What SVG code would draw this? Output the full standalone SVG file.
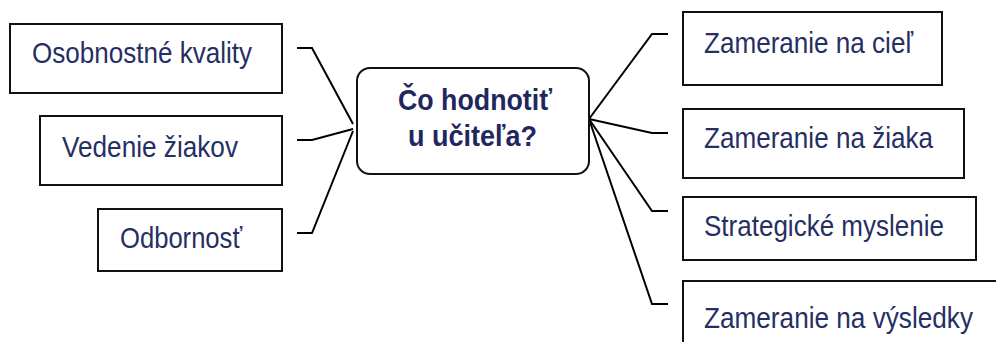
<svg xmlns="http://www.w3.org/2000/svg" width="996" height="342" viewBox="0 0 996 342">
<style>
.box{fill:#fff;stroke:#111;stroke-width:2}
.t{font-family:"Liberation Sans",Arial,sans-serif;font-size:30px;fill:#262f63}
.c{font-family:"Liberation Sans",Arial,sans-serif;font-size:30px;font-weight:bold;fill:#1f275e}
.ln{fill:none;stroke:#000;stroke-width:2;stroke-linejoin:miter}
</style>
<rect width="996" height="342" fill="#fff"/>
<g id="connectors">
<polyline class="ln" points="297,48 312,48 353,124"/>
<polyline class="ln" points="297,140 312,140 353,129"/>
<polyline class="ln" points="297,233 312,233 353,131"/>
<polyline class="ln" points="589,119 652,34 668,34"/>
<polyline class="ln" points="589,119 652,133 668,133"/>
<polyline class="ln" points="589,119 652,211 668,211"/>
<polyline class="ln" points="589,119 652,304 668,304"/>
</g>
<g id="n-osob">
<rect class="box" x="10" y="24" width="272" height="69"/>
<text class="t" x="32" y="63" textLength="220" lengthAdjust="spacingAndGlyphs">Osobnostné kvality</text>
</g>
<g id="n-vedenie">
<rect class="box" x="40" y="116" width="242" height="69"/>
<text class="t" x="62" y="157" textLength="176" lengthAdjust="spacingAndGlyphs">Vedenie žiakov</text>
</g>
<g id="n-odbor">
<rect class="box" x="98" y="209" width="184" height="62"/>
<text class="t" x="120" y="248" textLength="122" lengthAdjust="spacingAndGlyphs">Odbornosť</text>
</g>
<g id="n-center">
<rect class="box" x="357" y="68" width="232" height="106" rx="13" ry="13"/>
<text class="c" x="398" y="110" textLength="154" lengthAdjust="spacingAndGlyphs">Čo hodnotiť</text>
<text class="c" x="408" y="146" textLength="129" lengthAdjust="spacingAndGlyphs">u učiteľa?</text>
</g>
<g id="n-ciel">
<rect class="box" x="683" y="12" width="259" height="73"/>
<text class="t" x="704" y="53" textLength="209" lengthAdjust="spacingAndGlyphs">Zameranie na cieľ</text>
</g>
<g id="n-ziak">
<rect class="box" x="683" y="109" width="281" height="69"/>
<text class="t" x="704" y="148" textLength="229" lengthAdjust="spacingAndGlyphs">Zameranie na žiaka</text>
</g>
<g id="n-strat">
<rect class="box" x="683" y="197" width="293" height="63"/>
<text class="t" x="704" y="236" textLength="240" lengthAdjust="spacingAndGlyphs">Strategické myslenie</text>
</g>
<g id="n-vysl">
<rect class="box" x="683" y="281" width="330" height="80"/>
<text class="t" x="704" y="328" textLength="269" lengthAdjust="spacingAndGlyphs">Zameranie na výsledky</text>
</g>
</svg>
